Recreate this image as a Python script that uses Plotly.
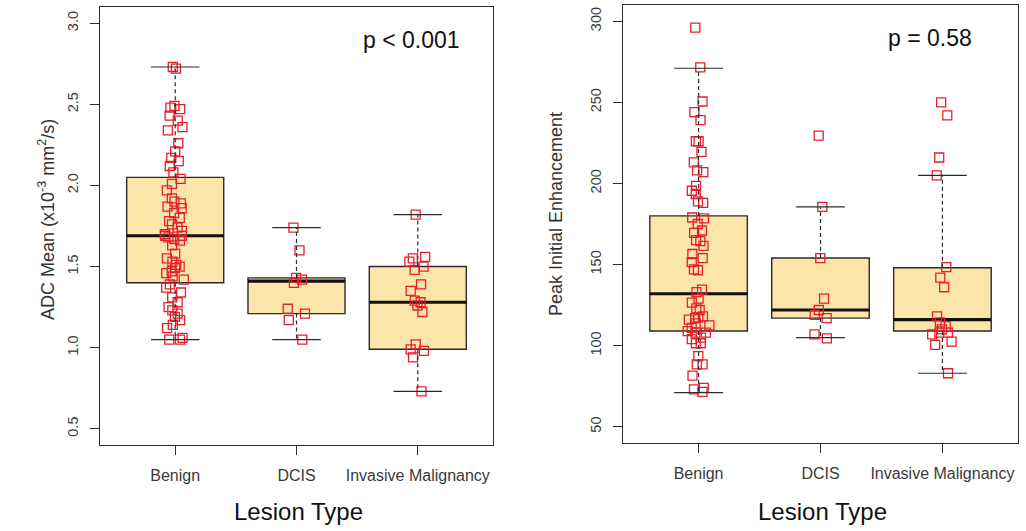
import plotly.graph_objects as go

# ---------------- data ----------------
categories = ["Benign", "DCIS", "Invasive Malignancy"]
cat_pos = [1, 2, 3]

adc_benign = [2.73, 2.72, 2.49, 2.48, 2.47, 2.43, 2.40, 2.36, 2.34, 2.26, 2.21, 2.17,
              2.15, 2.12, 2.08, 2.04, 2.01, 1.97, 1.92, 1.90, 1.89, 1.87, 1.86, 1.83,
              1.80, 1.78, 1.76, 1.74, 1.72, 1.70, 1.69, 1.69, 1.68, 1.67, 1.66, 1.63,
              1.58, 1.55, 1.53, 1.51, 1.50, 1.49, 1.47, 1.46, 1.44, 1.42, 1.39, 1.37,
              1.34, 1.31, 1.28, 1.25, 1.23, 1.21, 1.19, 1.17, 1.14, 1.12, 1.06, 1.05, 1.05]
adc_dcis = [1.74, 1.60, 1.43, 1.42, 1.40, 1.24, 1.21, 1.17, 1.05]
adc_invasive = [1.82, 1.56, 1.55, 1.53, 1.50, 1.48, 1.39, 1.35, 1.29, 1.28, 1.26, 1.22,
                1.02, 0.99, 0.98, 0.94, 0.73]

pie_benign = [296, 271.5, 250.5, 244, 239, 226, 226, 219.5, 213, 208, 207, 198.5, 195.5,
              193.5, 189, 188, 178.5, 179, 175, 171, 169.5, 164.5, 165, 161.5, 156.5,
              154, 151.5, 147, 146.5, 134.5, 133, 129, 126.5, 123, 122, 118, 117.5, 117,
              116, 113.8, 112.5, 111, 109, 108, 108, 105, 104, 101.5, 101.5, 93.5, 88.5,
              88.5, 81.5, 74, 73, 71.5]
pie_dcis = [229.5, 185.5, 154, 129, 122, 119, 117, 107, 104.5]
pie_invasive = [250, 242, 216, 205, 148.4, 142, 136, 118, 114.4, 112, 110, 108, 108, 107,
                102.5, 100.5, 83]

# box statistics
adc_lower = [1.05, 1.05, 0.73]
adc_q1 = [1.40, 1.21, 0.99]
adc_median = [1.69, 1.41, 1.28]
adc_q3 = [2.05, 1.43, 1.50]
adc_upper = [2.73, 1.74, 1.82]

pie_lower = [71, 105, 83]
pie_q1 = [109, 117, 109]
pie_median = [132, 122, 116]
pie_q3 = [180, 154, 148]
pie_upper = [271, 185.5, 205]

adc_ticks = [0.5, 1.0, 1.5, 2.0, 2.5, 3.0]
adc_ticktext = ["0.5", "1.0", "1.5", "2.0", "2.5", "3.0"]
pie_ticks = [50, 100, 150, 200, 250, 300]

# ---------------- style ----------------
W, H = 1026, 531
FONT = "Liberation Sans, Arial, sans-serif"
BOX_FILL = "#FCE5A9"
EDGE = "#2b2b2b"
RED = "#E3202B"
BOX_W = 0.8
CAP_HALF = 0.2


def px_x(p):
    return p / W


def px_y(p):
    return 1 - p / H


fig = go.Figure()


def add_panel(xa, ya, groups, lower, q1, med, q3, upper):
    wx, wy, cx, cy = [], [], [], []
    for p, lo, a, b, hi in zip(cat_pos, lower, q1, q3, upper):
        wx += [p, p, None, p, p, None]
        wy += [b, hi, None, a, lo, None]
        cx += [p - CAP_HALF, p + CAP_HALF, None, p - CAP_HALF, p + CAP_HALF, None]
        cy += [hi, hi, None, lo, lo, None]
    fig.add_trace(go.Scatter(x=wx, y=wy, mode="lines", xaxis=xa, yaxis=ya,
                             line=dict(color=EDGE, width=1.2, dash="4px,3px"),
                             showlegend=False, hoverinfo="skip"))
    fig.add_trace(go.Scatter(x=cx, y=cy, mode="lines", xaxis=xa, yaxis=ya,
                             line=dict(color=EDGE, width=1.2),
                             showlegend=False, hoverinfo="skip"))
    fig.add_trace(go.Box(x=cat_pos, q1=q1, median=med, q3=q3, lowerfence=q1,
                         upperfence=q3, width=BOX_W, fillcolor=BOX_FILL,
                         line=dict(color=EDGE, width=1.4), whiskerwidth=0,
                         boxpoints=False, xaxis=xa, yaxis=ya, showlegend=False))
    fig.add_trace(go.Box(x=cat_pos, q1=med, median=med, q3=med, lowerfence=med,
                         upperfence=med, width=BOX_W, fillcolor="rgba(0,0,0,0)",
                         line=dict(color="#111111", width=3.2), whiskerwidth=0,
                         boxpoints=False, xaxis=xa, yaxis=ya, showlegend=False))
    for p, vals in zip(cat_pos, groups):
        fig.add_trace(go.Box(x=[p] * len(vals), y=vals, width=BOX_W,
                             boxpoints="all", jitter=0.25, pointpos=0,
                             fillcolor="rgba(0,0,0,0)",
                             line=dict(color="rgba(0,0,0,0)", width=0),
                             marker=dict(symbol="square-open", color=RED, size=9,
                                         line=dict(width=1.3, color=RED)),
                             xaxis=xa, yaxis=ya, showlegend=False))


add_panel("x", "y", [adc_benign, adc_dcis, adc_invasive],
          adc_lower, adc_q1, adc_median, adc_q3, adc_upper)
add_panel("x2", "y2", [pie_benign, pie_dcis, pie_invasive],
          pie_lower, pie_q1, pie_median, pie_q3, pie_upper)

axis_common = dict(showline=True, mirror=True, linecolor=EDGE, linewidth=1.3,
                   showgrid=False, zeroline=False, ticks="outside", ticklen=9,
                   tickcolor=EDGE, tickwidth=1.2)
xfont = dict(family=FONT, size=16, color="#3a3a3a")
yfont = dict(family=FONT, size=14.5, color="#3a3a3a")

fig.update_layout(
    width=W, height=H,
    margin=dict(l=0, r=0, t=0, b=0),
    paper_bgcolor="white", plot_bgcolor="white",
    boxmode="overlay", showlegend=False,
    font=dict(family=FONT),
    xaxis=dict(domain=[px_x(100), px_x(493)], range=[0.38, 3.62], anchor="y",
               tickmode="array", tickvals=cat_pos, ticktext=categories,
               ticklabelstandoff=7, tickfont=xfont, **axis_common),
    yaxis=dict(domain=[px_y(445), px_y(7)], range=[0.4, 3.1], anchor="x",
               tickmode="array", tickvals=adc_ticks, ticktext=adc_ticktext,
               tickangle=-90, ticklabelstandoff=6, tickfont=yfont, **axis_common),
    xaxis2=dict(domain=[px_x(623), px_x(1018)], range=[0.38, 3.62], anchor="y2",
                tickmode="array", tickvals=cat_pos, ticktext=categories,
                ticklabelstandoff=7, tickfont=xfont, **axis_common),
    yaxis2=dict(domain=[px_y(443), px_y(5)], range=[40, 310], anchor="x2",
                tickmode="array", tickvals=pie_ticks,
                tickangle=-90, ticklabelstandoff=6, tickfont=yfont, **axis_common),
)

annotations = [
    dict(text="p < 0.001", x=px_x(411), y=px_y(40), size=23, angle=0, color="#111"),
    dict(text="p = 0.58", x=px_x(930), y=px_y(38), size=23, angle=0, color="#111"),
    dict(text="Lesion Type", x=px_x(298), y=px_y(511), size=24, angle=0, color="#111"),
    dict(text="Lesion Type", x=px_x(822), y=px_y(511), size=24, angle=0, color="#111"),
    dict(text="ADC Mean (x10<sup>-3</sup> mm<sup>2</sup>/s)", x=px_x(46), y=px_y(220),
         size=18, angle=-90, color="#333333"),
    dict(text="Peak Initial Enhancement", x=px_x(556), y=px_y(214), size=18, angle=-90,
         color="#333333"),
]
for a in annotations:
    fig.add_annotation(text=a["text"], x=a["x"], y=a["y"], xref="paper", yref="paper",
                       showarrow=False, textangle=a["angle"], xanchor="center",
                       yanchor="middle",
                       font=dict(family=FONT, size=a["size"], color=a["color"]))

fig.write_html("out.html",
               config={"displayModeBar": False},
               post_script="document.body.style.margin='0';"
                           "document.body.style.overflow='hidden';")
